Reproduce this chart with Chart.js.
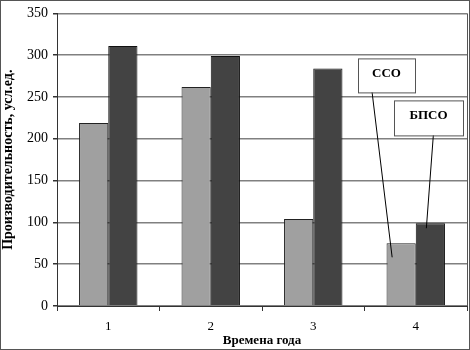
<!DOCTYPE html>
<html lang="ru">
<head>
<meta charset="UTF-8">
<title>Производительность</title>
<script src="https://cdn.jsdelivr.net/npm/chart.js"></script>
<style>
  html, body { margin: 0; padding: 0; background: #fff; }
  #wrap { width: 470px; height: 350px; }
</style>
</head>
<body>
<div id="wrap"><canvas id="chart" width="470" height="350"></canvas></div>
<script>
// данные
const seasons = ['1', '2', '3', '4'];
const ssoValues = [219, 262, 104, 75];
const bpsoValues = [311, 299, 284, 99];
const yTicks = [0, 50, 100, 150, 200, 250, 300, 350];

// рамки, подписи-выноски
const calloutPlugin = {
  id: 'callouts',
  afterDraw(chart) {
    const ctx = chart.ctx;
    const a = chart.chartArea;
    ctx.save();
    // правая граница области построения
    ctx.strokeStyle = '#555';
    ctx.lineWidth = 1;
    ctx.beginPath();
    ctx.moveTo(a.right + 0.5, a.top);
    ctx.lineTo(a.right + 0.5, a.bottom);
    ctx.stroke();
    // внешняя рамка
    ctx.strokeRect(0.5, 0.5, chart.width - 1, chart.height - 1);

    const last = seasons.length - 1;
    const light = chart.getDatasetMeta(0).data[last];
    const dark = chart.getDatasetMeta(1).data[last];

    function box(text, x, y, w, h, tx, ty, fromX, fromY) {
      ctx.strokeStyle = '#000';
      ctx.lineWidth = 1;
      ctx.beginPath();
      ctx.moveTo(fromX, fromY);
      ctx.lineTo(tx, ty);
      ctx.stroke();
      ctx.fillStyle = '#fff';
      ctx.fillRect(x, y, w, h);
      ctx.strokeStyle = '#555';
      ctx.strokeRect(x + 0.5, y + 0.5, w, h);
      ctx.fillStyle = '#000';
      ctx.font = 'bold 13px "Liberation Serif"';
      ctx.textAlign = 'center';
      ctx.textBaseline = 'middle';
      ctx.fillText(text, x + w / 2, y + h / 2 - 2);
    }
    box('ССО', a.left + 301, a.top + 45, 57, 34,
        light.x - 9, light.y + 14, a.left + 314, a.top + 70);
    box('БПСО', a.left + 337, a.top + 87, 69, 35,
        dark.x - 4, dark.y + 5, a.left + 377, a.top + 113);
    ctx.restore();
  }
};

new Chart(document.getElementById('chart'), {
  type: 'bar',
  data: {
    labels: seasons,
    datasets: [
      {
        label: 'ССО',
        data: ssoValues,
        backgroundColor: '#a0a0a0',
        borderColor: '#222',
        borderWidth: 1,
        categoryPercentage: 0.57,
        barPercentage: 1.0
      },
      {
        label: 'БПСО',
        data: bpsoValues,
        backgroundColor: '#434343',
        borderColor: '#111',
        borderWidth: 1,
        categoryPercentage: 0.57,
        barPercentage: 1.0
      }
    ]
  },
  options: {
    responsive: false,
    animation: false,
    layout: { padding: { top: 9, right: 3, left: 0, bottom: 0 } },
    plugins: {
      legend: { display: false },
      tooltip: { enabled: false }
    },
    scales: {
      x: {
        grid: {
          offset: true,
          drawOnChartArea: false,
          drawTicks: true,
          tickLength: 5,
          color: '#333'
        },
        border: { color: '#333', width: 1 },
        ticks: {
          color: '#000',
          font: { family: 'Liberation Serif', size: 13 },
          padding: 8
        },
        title: {
          display: true,
          text: 'Времена года',
          color: '#000',
          font: { family: 'Liberation Serif', size: 13, weight: 'bold' },
          padding: { top: 0, bottom: 2 }
        },
        afterFit(scale) { scale.height = 44; }
      },
      y: {
        min: 0,
        max: 350,
        afterBuildTicks(scale) {
          scale.ticks = yTicks.map(v => ({ value: v }));
        },
        grid: {
          color: '#808080',
          lineWidth: 1.5,
          drawTicks: true,
          tickLength: 4,
          tickColor: '#333'
        },
        border: { color: '#333', width: 1 },
        ticks: {
          color: '#000',
          font: { family: 'Liberation Serif', size: 14 },
          padding: 5
        },
        title: {
          display: true,
          text: 'Производительность, усл.ед.',
          color: '#000',
          font: { family: 'Liberation Serif', size: 14, weight: 'bold' },
          padding: { top: 0, bottom: 2 }
        },
        afterFit(scale) { scale.width = 57; }
      }
    }
  },
  plugins: [calloutPlugin]
});
</script>
</body>
</html>
